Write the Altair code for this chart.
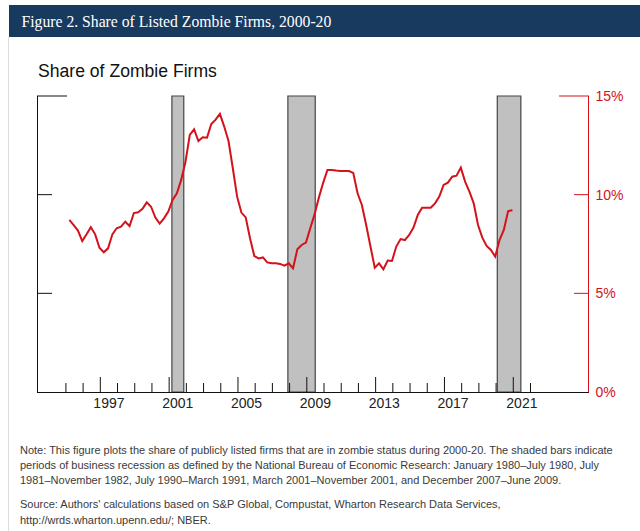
import altair as alt
import pandas as pd

# ---------------- data ----------------
first_quarter = 1995.2          # decimal-year position of the first quarterly point
share_pct = [8.72, 8.46, 8.18, 7.65, 7.99, 8.35, 7.99, 7.31, 7.08, 7.28,
             7.99, 8.30, 8.38, 8.63, 8.41, 9.07, 9.11, 9.28, 9.61, 9.39,
             8.84, 8.53, 8.80, 9.14, 9.73, 10.07, 10.75, 11.67, 13.03, 13.31,
             12.72, 12.91, 12.89, 13.58, 13.80, 14.09, 13.45, 12.72, 11.34, 9.90,
             9.09, 8.85, 7.79, 6.89, 6.77, 6.82, 6.57, 6.52, 6.52, 6.49,
             6.40, 6.52, 6.27, 7.23, 7.45, 7.57, 8.30, 9.00, 9.85, 10.60,
             11.25, 11.25, 11.22, 11.20, 11.20, 11.20, 11.10, 10.07, 9.48, 8.46,
             7.37, 6.30, 6.52, 6.22, 6.66, 6.64, 7.37, 7.75, 7.70, 7.96,
             8.33, 8.97, 9.34, 9.34, 9.34, 9.56, 9.90, 10.49, 10.61, 10.91,
             10.96, 11.37, 10.66, 10.15, 9.56, 8.46, 7.82, 7.40, 7.20, 6.86,
             7.70, 8.21, 9.17, 9.21]

recession_start = [2001.16, 2007.90, 2020.07]
recession_end = [2001.85, 2009.49, 2021.44]

tick_years = list(range(1995, 2023))
label_years = [1997, 2001, 2005, 2009, 2013, 2017, 2021]

pct_ticks_short = [5, 10]
pct_ticks_long = [15]
pct_labels_val = [0, 5, 10, 15]
pct_labels_txt = ["0%", "5%", "10%", "15%"]

header_title = "Figure 2. Share of Listed Zombie Firms, 2000-20"
chart_title = "Share of Zombie Firms"
note_lines = [
    "Note: This figure plots the share of publicly listed firms that are in zombie status during 2000-20. The shaded bars indicate",
    "periods of business recession as defined by the National Bureau of Economic Research: January 1980\u2013July 1980, July",
    "1981\u2013November 1982, July 1990\u2013March 1991, March 2001\u2013November 2001, and December 2007\u2013June 2009.",
]
source_lines = [
    "Source: Authors' calculations based on S&P Global, Compustat, Wharton Research Data Services,",
    "http://wrds.wharton.upenn.edu/; NBER.",
]

# ---------------- styling ----------------
W, H = 552, 296
RED = "#d3121c"
NAVY = "#173a5e"
xs = alt.Scale(domain=[1993.32, 2025.4], nice=False, zero=False)
ys = alt.Scale(domain=[0, 15], nice=False, zero=True)

one = pd.DataFrame({"d": [0]})

df_line = pd.DataFrame({"t": [first_quarter + 0.25 * i for i in range(len(share_pct))],
                        "v": share_pct})
df_rec = pd.DataFrame({"s": recession_start, "e": recession_end})
df_ticks = pd.DataFrame({"yr": tick_years,
                         "major": [y in label_years for y in tick_years]})
df_lab = pd.DataFrame({"yr": label_years})
df_ps = pd.DataFrame({"v": pct_ticks_short})
df_pl = pd.DataFrame({"v": pct_ticks_long})
df_pct = pd.DataFrame({"v": pct_labels_val, "lab": pct_labels_txt})

# header bar and page decorations
header = alt.Chart(one).mark_rect(color=NAVY).encode(
    x=alt.value(-28), x2=alt.value(603), y=alt.value(-91), y2=alt.value(-59))
border = alt.Chart(one).mark_rule(color="#dcdcdc", strokeWidth=1).encode(
    x=alt.value(-28.5), y=alt.value(-59), y2=alt.value(440))
header_txt = alt.Chart(one).mark_text(
    text=header_title, align="left", baseline="alphabetic", font="Liberation Serif",
    fontSize=15.7, color="white").encode(x=alt.value(-15.5), y=alt.value(-69.3))
title_txt = alt.Chart(one).mark_text(
    text=chart_title, align="left", baseline="alphabetic", font="Liberation Sans",
    fontSize=17.6, color="#111111").encode(x=alt.value(1), y=alt.value(-19.3))

# recession shading
rec = alt.Chart(df_rec).mark_rect(fill="#c0c0c0", stroke="#454545", strokeWidth=1.2).encode(
    x=alt.X("s:Q", scale=xs, axis=None), x2="e:Q", y=alt.value(0), y2=alt.value(H))

# the series
line = alt.Chart(df_line).mark_line(color=RED, strokeWidth=2).encode(
    x=alt.X("t:Q", scale=xs, axis=None), y=alt.Y("v:Q", scale=ys, axis=None))

# axis lines
left_ax = alt.Chart(one).mark_rule(color="#111111").encode(
    x=alt.value(0.5), y=alt.value(0), y2=alt.value(H + 0.5))
bottom_ax = alt.Chart(one).mark_rule(color="#111111").encode(
    x=alt.value(0), x2=alt.value(W), y=alt.value(H + 0.5))
right_ax = alt.Chart(one).mark_rule(color=RED).encode(
    x=alt.value(W - 0.5), y=alt.value(0), y2=alt.value(H + 0.5))

# bottom ticks (pointing inward)
minor = alt.Chart(df_ticks).transform_filter("!datum.major").mark_rule(color="#111111").encode(
    x=alt.X("yr:Q", scale=xs, axis=None), y=alt.value(H), y2=alt.value(H - 9))
major = alt.Chart(df_ticks).transform_filter("datum.major").mark_rule(color="#111111").encode(
    x=alt.X("yr:Q", scale=xs, axis=None), y=alt.value(H), y2=alt.value(H - 15))
xlab = alt.Chart(df_lab).transform_calculate(pos="datum.yr + 0.5").mark_text(
    align="center", baseline="alphabetic", font="Liberation Sans", fontSize=14,
    color="#222222").encode(
    x=alt.X("pos:Q", scale=xs, axis=None), y=alt.value(H + 16.3), text="yr:N")

# left / right ticks
lt_s = alt.Chart(df_ps).mark_rule(color="#111111").encode(
    y=alt.Y("v:Q", scale=ys, axis=None), x=alt.value(0), x2=alt.value(15))
lt_l = alt.Chart(df_pl).mark_rule(color="#111111").encode(
    y=alt.Y("v:Q", scale=ys, axis=None), x=alt.value(0), x2=alt.value(30))
rt_s = alt.Chart(df_ps).mark_rule(color=RED).encode(
    y=alt.Y("v:Q", scale=ys, axis=None), x=alt.value(W - 15), x2=alt.value(W))
rt_l = alt.Chart(df_pl).mark_rule(color=RED).encode(
    y=alt.Y("v:Q", scale=ys, axis=None), x=alt.value(W - 30), x2=alt.value(W))
ylab = alt.Chart(df_pct).mark_text(
    align="left", baseline="middle", font="Liberation Sans", fontSize=14, color=RED, dy=1).encode(
    y=alt.Y("v:Q", scale=ys, axis=None), x=alt.value(W + 6.5), text="lab:N")

# notes
note = alt.Chart(one).mark_text(
    align="left", baseline="top", font="Liberation Sans", fontSize=11, lineHeight=15.4,
    color="#3a3a3a").encode(x=alt.value(-17), y=alt.value(348.5), text=alt.value(note_lines))
source = alt.Chart(one).mark_text(
    align="left", baseline="top", font="Liberation Sans", fontSize=11, lineHeight=15.4,
    color="#3a3a3a").encode(x=alt.value(-17), y=alt.value(403.2), text=alt.value(source_lines))

chart = alt.layer(
    header, border, header_txt, title_txt,
    rec, line,
    left_ax, bottom_ax, right_ax,
    minor, major, xlab,
    lt_s, lt_l, rt_s, rt_l, ylab,
    note, source,
).properties(
    width=W, height=H,
    autosize=alt.AutoSizeParams(type="none"),
    padding={"left": 37, "top": 96, "right": 640 - 37 - W, "bottom": 531 - 96 - H},
    background="white",
).configure_view(stroke=None)

chart.save("out.html", embed_options={"renderer": "svg", "actions": False})
